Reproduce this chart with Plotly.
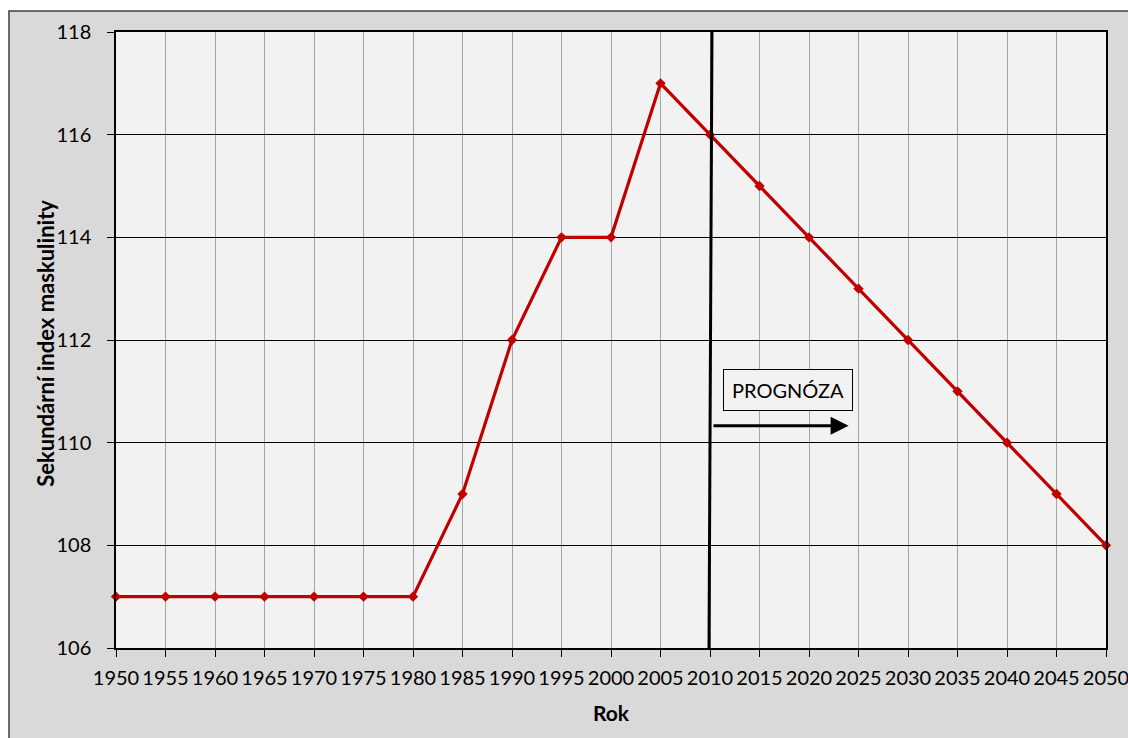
import plotly.graph_objects as go

years = [1950, 1955, 1960, 1965, 1970, 1975, 1980, 1985, 1990, 1995, 2000,
         2005, 2010, 2015, 2020, 2025, 2030, 2035, 2040, 2045, 2050]
index_values = [107, 107, 107, 107, 107, 107, 107, 109, 112, 114, 114,
                117, 116, 115, 114, 113, 112, 111, 110, 109, 108]
y_ticks = [106, 108, 110, 112, 114, 116, 118]
forecast_year = 2010
label_text = "PROGNÓZA"
x_title = "Rok"
y_title = "Sekundární index maskulinity"

FONT = "Lato"

fig = go.Figure()
fig.add_trace(go.Scatter(
    x=years, y=index_values, mode="lines+markers",
    line=dict(color="#c00000", width=3.2),
    marker=dict(symbol="diamond", size=8, color="#c00000"),
    showlegend=False, cliponaxis=False,
))

shapes = [
    # outer chart frame
    dict(type="rect", xref="paper", yref="paper", x0=-0.1081, x1=1.05,
         y0=-0.2, y1=1.0341, fillcolor="#d9d9d9",
         line=dict(color="#404040", width=1.5), layer="below"),
    # plot area
    dict(type="rect", xref="paper", yref="paper", x0=0, x1=1, y0=0, y1=1,
         fillcolor="#f2f2f2", line=dict(width=0), layer="below"),
    # forecast divider
    dict(type="line", xref="x", yref="y", x0=forecast_year + 0.2, x1=forecast_year - 0.1,
         y0=118, y1=106, line=dict(color="black", width=3)),
]

annotations = [
    dict(x=2024, y=110.33, ax=forecast_year + 0.2, ay=110.33, xref="x", yref="y",
         axref="x", ayref="y", text="", showarrow=True, arrowhead=2,
         arrowsize=1.2, arrowwidth=3, arrowcolor="black"),
    dict(x=2017.9, y=111.03, xref="x", yref="y", text=label_text, showarrow=False,
         font=dict(family=FONT, size=20, color="black"), bgcolor="#f2f2f2",
         bordercolor="black", borderwidth=1, borderpad=8),
    dict(x=-0.072, y=0.495, xref="paper", yref="paper", text=f"<b>{y_title}</b>",
         textangle=-90, showarrow=False, xanchor="center", yanchor="middle",
         font=dict(family=FONT, size=22, color="black")),
    dict(x=0.5, y=-0.104, xref="paper", yref="paper", text=f"<b>{x_title}</b>",
         showarrow=False, xanchor="center", yanchor="middle",
         font=dict(family=FONT, size=21, color="black")),
]

fig.update_layout(
    width=1128, height=738,
    margin=dict(l=116, r=22, t=32, b=90),
    paper_bgcolor="white", plot_bgcolor="rgba(0,0,0,0)",
    font=dict(family=FONT, size=20, color="black"),
    shapes=shapes, annotations=annotations,
    xaxis=dict(
        range=[1950, 2050], tickmode="array", tickvals=years,
        ticktext=[str(y) for y in years], automargin=False,
        ticklabeloverflow="allow", ticklabelstandoff=4,
        showgrid=True, gridcolor="#a6a6a6", gridwidth=1,
        showline=True, linecolor="black", linewidth=1.5, mirror=True,
        ticks="outside", ticklen=7, tickcolor="black",
        zeroline=False,
    ),
    yaxis=dict(
        range=[106, 118], tickmode="array", tickvals=y_ticks, automargin=False,
        ticklabeloverflow="allow", ticklabelstandoff=12,
        showgrid=True, gridcolor="#000000", gridwidth=1,
        showline=True, linecolor="black", linewidth=1.5, mirror=True,
        ticks="outside", ticklen=7, tickcolor="black",
        zeroline=False,
    ),
)

fig.write_html("out.html", config={"displayModeBar": False},
               post_script="document.body.style.margin='0';document.body.style.overflow='hidden';")
